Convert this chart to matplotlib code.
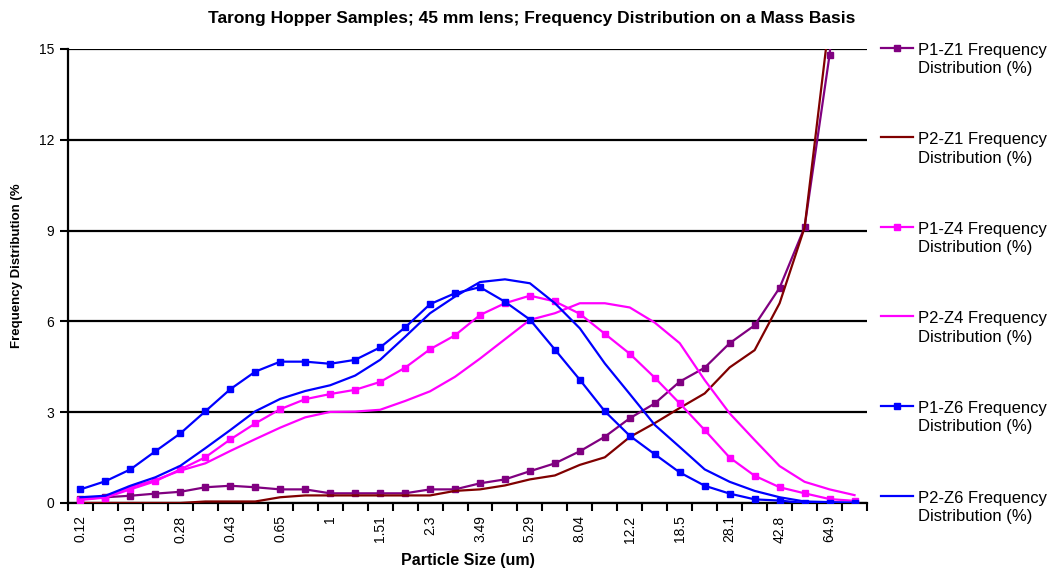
import matplotlib
matplotlib.use("Agg")
import matplotlib.pyplot as plt
from matplotlib.lines import Line2D
import numpy as np

plt.rcParams['font.family'] = ['Liberation Sans', 'DejaVu Sans']

sizes = ["0.12", "0.15", "0.19", "0.23", "0.28", "0.35", "0.43", "0.53",
         "0.65", "0.81", "1", "1.23", "1.51", "1.86", "2.3", "2.83",
         "3.49", "4.3", "5.29", "6.52", "8.04", "9.91", "12.2", "15.1",
         "18.5", "22.8", "28.1", "34.7", "42.8", "52.7", "64.9", "80"]

p1_z1 = [0.13, 0.19, 0.24, 0.31, 0.37, 0.52, 0.57, 0.52, 0.45, 0.45, 0.32, 0.32,
         0.32, 0.32, 0.45, 0.45, 0.65, 0.78, 1.05, 1.31, 1.71, 2.19, 2.80, 3.29,
         4.01, 4.47, 5.28, 5.87, 7.11, 9.11, 14.8, 23.0]
p2_z1 = [0.0, 0.0, 0.0, 0.0, 0.0, 0.05, 0.05, 0.05, 0.19, 0.25, 0.25, 0.25,
         0.25, 0.25, 0.25, 0.40, 0.45, 0.58, 0.78, 0.91, 1.26, 1.51, 2.18, 2.64,
         3.14, 3.62, 4.48, 5.05, 6.60, 9.10, 16.0, 22.0]
p1_z4 = [0.10, 0.18, 0.45, 0.72, 1.11, 1.51, 2.10, 2.63, 3.10, 3.43, 3.60, 3.74,
         4.00, 4.47, 5.08, 5.54, 6.21, 6.60, 6.85, 6.66, 6.25, 5.59, 4.93, 4.14,
         3.29, 2.41, 1.50, 0.90, 0.52, 0.32, 0.13, 0.07]
p2_z4 = [0.13, 0.21, 0.52, 0.76, 1.07, 1.31, 1.72, 2.11, 2.49, 2.83, 3.01, 3.02,
         3.08, 3.37, 3.69, 4.17, 4.77, 5.41, 6.05, 6.27, 6.60, 6.60, 6.46, 5.96,
         5.28, 4.06, 2.96, 2.08, 1.22, 0.70, 0.45, 0.26]
p1_z6 = [0.45, 0.72, 1.11, 1.71, 2.30, 3.03, 3.76, 4.34, 4.67, 4.67, 4.60, 4.73,
         5.14, 5.80, 6.57, 6.93, 7.13, 6.65, 6.06, 5.07, 4.07, 3.03, 2.22, 1.61,
         1.01, 0.57, 0.31, 0.12, 0.08, 0.0, 0.0, 0.0]
p2_z6 = [0.19, 0.24, 0.57, 0.85, 1.23, 1.81, 2.41, 3.03, 3.44, 3.70, 3.89, 4.21,
         4.73, 5.49, 6.27, 6.82, 7.30, 7.39, 7.26, 6.60, 5.77, 4.61, 3.60, 2.58,
         1.85, 1.11, 0.70, 0.40, 0.19, 0.05, 0.03, 0.01]

series_names = ["P1-Z1 Frequency\nDistribution (%)", "P2-Z1 Frequency\nDistribution (%)",
                "P1-Z4 Frequency\nDistribution (%)", "P2-Z4 Frequency\nDistribution (%)",
                "P1-Z6 Frequency\nDistribution (%)", "P2-Z6 Frequency\nDistribution (%)"]
series_vals = [p1_z1, p2_z1, p1_z4, p2_z4, p1_z6, p2_z6]
colors = ["#800080", "#800000", "#FF00FF", "#FF00FF", "#0000FF", "#0000FF"]
markers = ["s", None, "s", None, "s", None]

W, H = 1057, 569
fig = plt.figure(figsize=(W / 100, H / 100), dpi=100)
ax = fig.add_axes([68 / W, 1 - 503 / H, (867 - 68) / W, (503 - 49) / H])

x = np.arange(len(sizes))
for vals, c, m in zip(series_vals, colors, markers):
    ax.plot(x, vals, color=c, lw=1.6, marker=m, markersize=4.5,
            markeredgewidth=1.0, clip_on=True, zorder=3)

ax.set_xlim(-0.5, len(sizes) - 0.5)
ax.set_ylim(0, 15)
ax.set_yticks([0, 3, 6, 9, 12, 15])
ax.yaxis.grid(True, color="black", lw=1.6)
ax.set_axisbelow(True)

ax.set_xticks(x[::2])
ax.set_xticklabels(sizes[::2], rotation=90, fontsize=10)
ax.set_xticks(np.arange(-0.5, len(sizes)), minor=True)
ax.tick_params(axis="x", which="major", length=0, pad=9)
ax.tick_params(axis="x", which="minor", length=6, width=1.5, direction="out")
ax.tick_params(axis="y", length=6, width=1.5, labelsize=10, pad=4)

for s in ["top", "right"]:
    ax.spines[s].set_visible(False)
for s in ["left", "bottom"]:
    ax.spines[s].set_linewidth(1.6)

ax.set_xlabel("Particle Size (um)", fontsize=11.5, fontweight="bold")
ax.xaxis.set_label_coords((468 - 68) / 799, -(560 - 503) / 454)
ax.xaxis.label.set_va("center")
ax.set_ylabel("Frequency Distribution (%", fontsize=9.5, fontweight="bold")
ax.yaxis.set_label_coords((17 - 68) / 799, (503 - 266) / 454)
ax.yaxis.label.set_va("center")

fig.text(531.5 / W, 1 - 18 / H,
         "Tarong Hopper Samples; 45 mm lens; Frequency Distribution on a Mass Basis",
         ha="center", va="center", fontsize=12.5, fontweight="bold")

# legend drawn manually (handles aligned with first text line, as in the reference)
y0 = 47.5
for i, (name, c, m) in enumerate(zip(series_names, colors, markers)):
    yy = 1 - (y0 + 89.6 * i) / H
    fig.add_artist(Line2D([881 / W, 913 / W], [yy, yy], color=c, lw=1.6))
    if m:
        fig.add_artist(Line2D([897 / W], [yy], color=c, marker=m, markersize=4.5))
    fig.text(918 / W, yy + 5 / H, name, ha="left", va="top", fontsize=12,
             linespacing=1.3)

fig.savefig("out.png", dpi=100)
